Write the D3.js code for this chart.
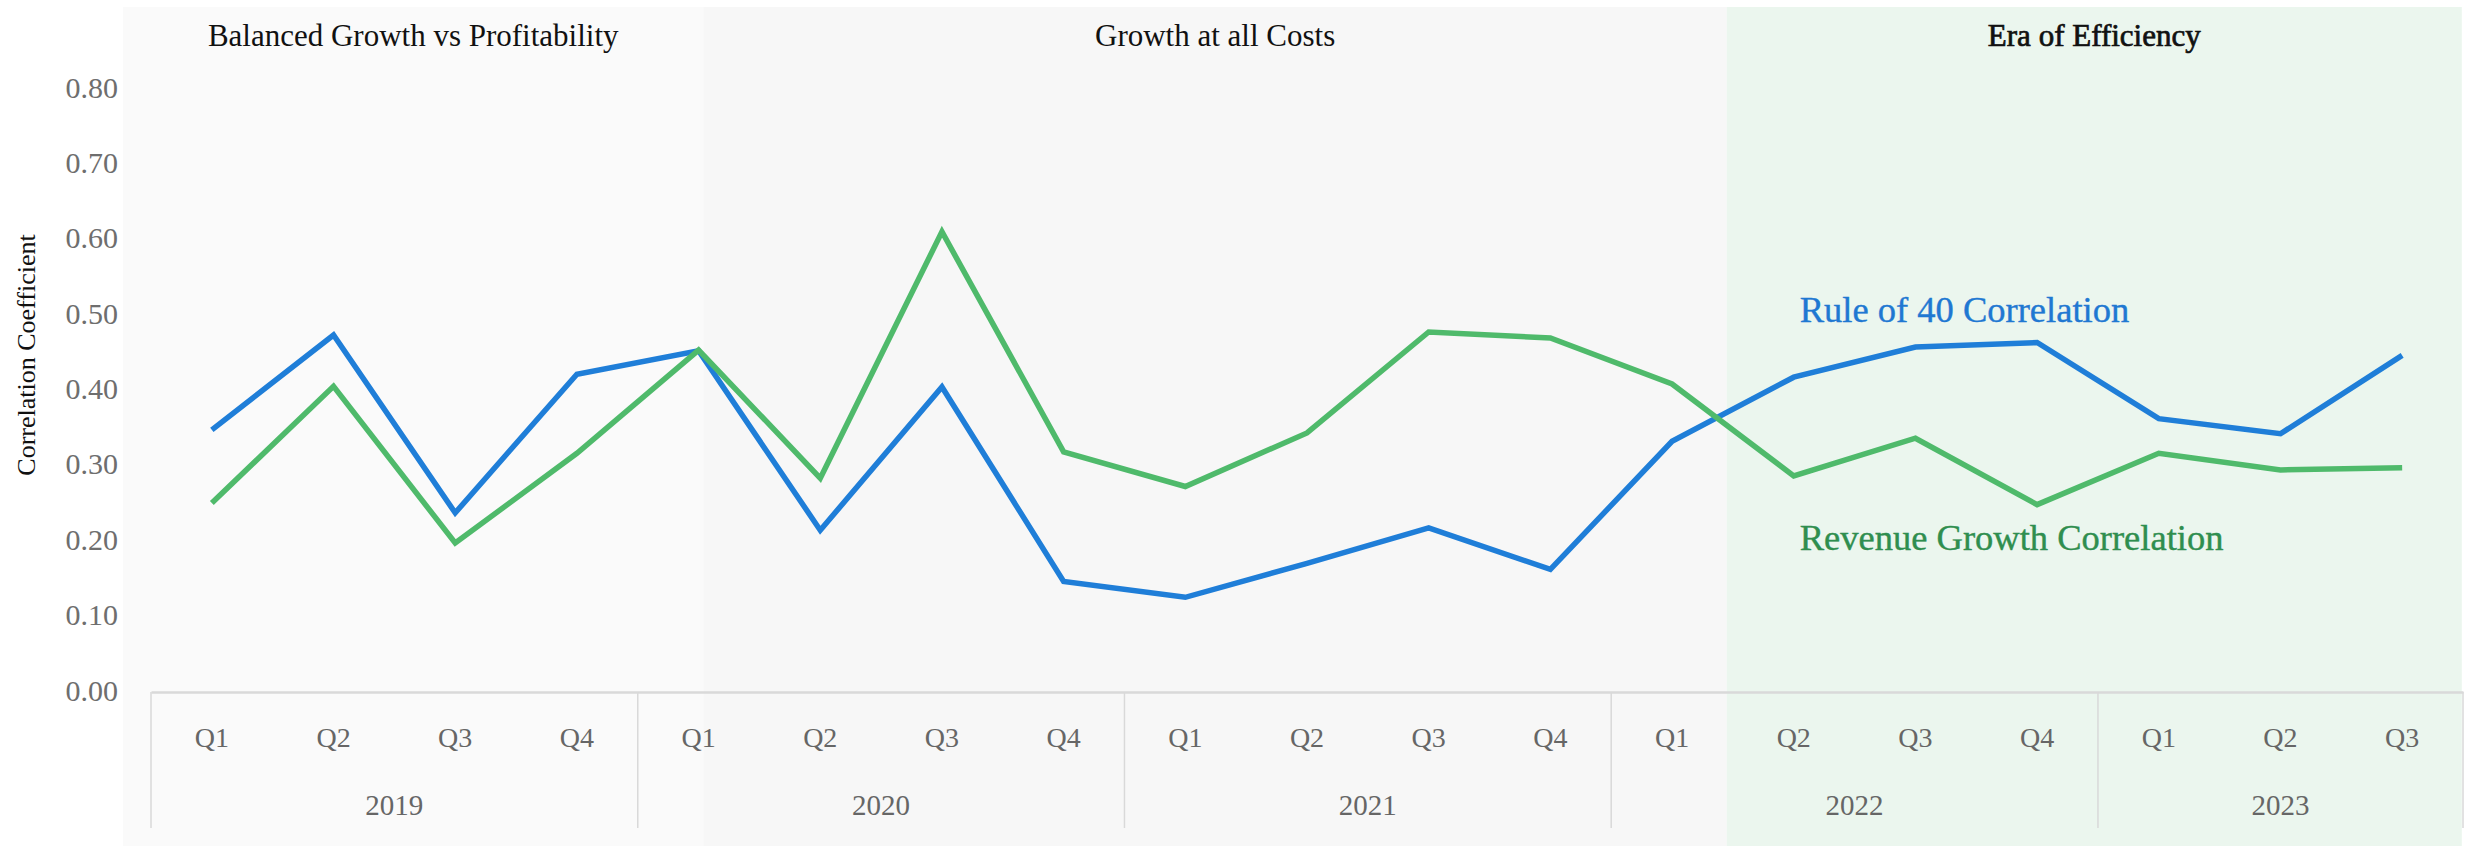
<!DOCTYPE html>
<html>
<head>
<meta charset="utf-8">
<script src="https://cdn.jsdelivr.net/npm/d3@7"></script>
<style>
  body { margin: 0; background: #fff; }
  text { font-family: "Liberation Serif", serif; }
</style>
</head>
<body>
<svg id="chart"></svg>
<script>
const quarters = ["Q1", "Q2", "Q3", "Q4", "Q1", "Q2", "Q3", "Q4", "Q1", "Q2", "Q3", "Q4",
                  "Q1", "Q2", "Q3", "Q4", "Q1", "Q2", "Q3"];
const years = ["2019", "2019", "2019", "2019", "2020", "2020", "2020", "2020",
               "2021", "2021", "2021", "2021", "2022", "2022", "2022", "2022",
               "2023", "2023", "2023"];
const rule40 = [0.345, 0.471, 0.235, 0.419, 0.450, 0.212, 0.402, 0.144, 0.123, 0.168,
                0.215, 0.160, 0.330, 0.415, 0.455, 0.461, 0.360, 0.340, 0.444];
const revenueGrowth = [0.248, 0.403, 0.195, 0.314, 0.451, 0.281, 0.608, 0.316, 0.270, 0.341,
                       0.475, 0.467, 0.406, 0.284, 0.334, 0.246, 0.314, 0.292, 0.295];
const yTicks = [0, 0.1, 0.2, 0.3, 0.4, 0.5, 0.6, 0.7, 0.8];
const eras = ["Balanced Growth vs Profitability", "Growth at all Costs", "Era of Efficiency"];
const seriesNames = ["Rule of 40 Correlation", "Revenue Growth Correlation"];

const width = 2474, height = 846;
const axisY = 692;

const svg = d3.select('#chart')
    .attr('width', width)
    .attr('height', height);

const x = d3.scaleBand()
    .domain(d3.range(quarters.length))
    .range([151, 2463]);

const y = d3.scaleLinear()
    .domain([0, 0.8])
    .range([690, 87]);

// position in units of categories, used for backgrounds and separators
const edge = t => x.range()[0] + t * x.bandwidth();
const cx = i => x(i) + x.bandwidth() / 2;

// era backgrounds
const eraEdges = [-0.23, 4.54, 12.95, 18.99];
const eraColors = ["#fafafa", "#f7f7f7", "#ebf6ee"];

svg.append('g').selectAll('rect')
    .data(eras)
    .join('rect')
    .attr('x', (d, i) => edge(eraEdges[i]))
    .attr('y', 7)
    .attr('width', (d, i) => edge(eraEdges[i + 1]) - edge(eraEdges[i]))
    .attr('height', height - 7)
    .attr('fill', (d, i) => eraColors[i]);

svg.append('g').selectAll('text')
    .data(eras)
    .join('text')
    .attr('x', (d, i) => (edge(eraEdges[i]) + edge(eraEdges[i + 1])) / 2)
    .attr('y', 46)
    .attr('text-anchor', 'middle')
    .style('font-size', '31px')
    .attr('fill', '#111')
    .attr('stroke', (d, i) => i == 2 ? '#111' : 'none')
    .attr('stroke-width', 0.7)
    .text(d => d);

// y tick labels
svg.append('g').selectAll('text')
    .data(yTicks)
    .join('text')
    .attr('x', 118)
    .attr('y', d => y(d))
    .attr('dy', '0.35em')
    .attr('text-anchor', 'end')
    .style('font-size', '30px')
    .attr('fill', '#6e6e6e')
    .text(d3.format('.2f'));

svg.append('text')
    .attr('transform', `translate(35, 355) rotate(-90)`)
    .attr('text-anchor', 'middle')
    .style('font-size', '26px')
    .attr('fill', '#111')
    .text("Correlation Coefficient");

// x axis: quarters
const xaxis = d3.axisBottom(x)
    .tickSize(0)
    .tickSizeOuter(0)
    .tickFormat(i => quarters[i]);

svg.append('g')
    .attr('transform', `translate(0, ${axisY})`)
    .call(xaxis)
    .call(g => g.select('.domain').attr('stroke', '#d9d9d9').attr('stroke-width', 2.5))
    .call(g => g.selectAll('text')
        .attr('y', 55)
        .attr('dy', 0)
        .attr('fill', '#666')
        .style('font-family', '"Liberation Serif", serif')
        .style('font-size', '28px'));

// year groups
const yearGroups = d3.groups(d3.range(quarters.length), i => years[i]);
const separators = yearGroups.map(g => g[1][0]).concat([quarters.length]);

svg.append('g').selectAll('line')
    .data(separators)
    .join('line')
    .attr('x1', d => edge(d))
    .attr('x2', d => edge(d))
    .attr('y1', axisY)
    .attr('y2', 828)
    .attr('stroke', '#d9d9d9')
    .attr('stroke-width', 1.5);

svg.append('g').selectAll('text')
    .data(yearGroups)
    .join('text')
    .attr('x', d => (edge(d[1][0]) + edge(d[1][d[1].length - 1] + 1)) / 2)
    .attr('y', 815)
    .attr('text-anchor', 'middle')
    .style('font-size', '29px')
    .attr('fill', '#666')
    .text(d => d[0]);

// lines
const line = d3.line()
    .x((d, i) => cx(i))
    .y(d => y(d));

const series = [
    { values: rule40, color: "#1f7ed8", label: "#1f78d2", labelValue: 0.488 },
    { values: revenueGrowth, color: "#4fba6b", label: "#2f8e4f", labelValue: 0.186 }
];

svg.append('g').selectAll('path')
    .data(series)
    .join('path')
    .attr('d', d => line(d.values))
    .attr('fill', 'none')
    .attr('stroke', d => d.color)
    .attr('stroke-width', 5.5);

svg.append('g').selectAll('text')
    .data(series)
    .join('text')
    .attr('x', cx(13) + 6)
    .attr('y', d => y(d.labelValue))
    .style('font-size', '36.5px')
    .attr('fill', d => d.label)
    .attr('stroke', d => d.label)
    .attr('stroke-width', 0.4)
    .text((d, i) => seriesNames[i]);
</script>
</body>
</html>
